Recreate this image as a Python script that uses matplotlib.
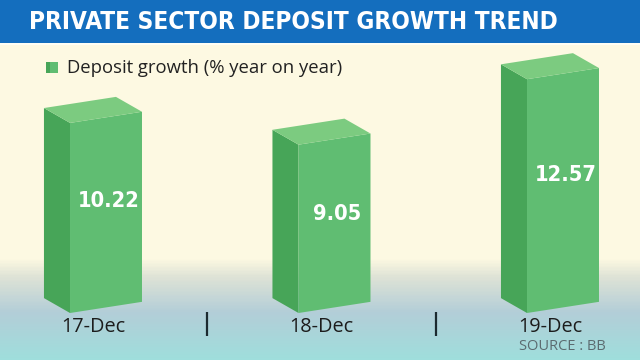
import numpy as np
import matplotlib
matplotlib.use("Agg")
import matplotlib.pyplot as plt
from matplotlib import font_manager
from matplotlib.font_manager import FontProperties
from matplotlib.patches import Polygon, Rectangle
from matplotlib.colors import LinearSegmentedColormap

# ------------------------------------------------------------
# data
# ------------------------------------------------------------
categories = ["17-Dec", "18-Dec", "19-Dec"]
growth = [10.22, 9.05, 12.57]
title = "PRIVATE SECTOR DEPOSIT GROWTH TREND"
legend_label = "Deposit growth (% year on year)"
source = "SOURCE : BB"


def _weight(w):
    if isinstance(w, str):
        return font_manager.weight_dict.get(w, 400)
    return w


def _stretch(s):
    if isinstance(s, str):
        return font_manager.stretch_dict.get(s, 500)
    return s


def find_condensed_bold():
    """pick a bold condensed face if one is installed"""
    best = None
    for f in font_manager.fontManager.ttflist:
        narrow = _stretch(f.stretch) < 500 or "Condensed" in f.name or "Narrow" in f.name
        if not narrow or _weight(f.weight) < 600 or f.style != "normal":
            continue
        key = (_stretch(f.stretch), abs(_weight(f.weight) - 700))
        if best is None or key < best[0]:
            best = (key, f.fname)
    return best[1] if best else None


cond_file = find_condensed_bold()
if cond_file:
    TITLE_FP = FontProperties(fname=cond_file, size=20)
    VALUE_FP = FontProperties(fname=cond_file, size=18)
else:
    TITLE_FP = FontProperties(family="DejaVu Sans", weight="bold", size=15)
    VALUE_FP = FontProperties(family="DejaVu Sans", weight="bold", size=16)

installed = {f.name for f in font_manager.fontManager.ttflist}
BODY = "Open Sans" if "Open Sans" in installed else "DejaVu Sans"

FRONT = "#60bd72"
SIDE = "#47a558"
TOP = "#7ccb80"
BLUE = "#146ebe"

# box geometry (x in category units, y in value units)
FW = 0.315      # front face width
DX = 0.114      # depth of the left face
SF = 0.6        # rise of the front face edges
SS = 0.8        # rise of the left face edges


def fit_width(fig, txt, target_px):
    """scale a text's font size so it spans target_px pixels"""
    r = fig.canvas.get_renderer()
    w = txt.get_window_extent(r).width
    txt.set_fontsize(txt.get_fontsize() * target_px / w)


fig = plt.figure(figsize=(6.4, 3.6), dpi=100)

# background: cream with a blue-ish ground at the bottom
bg = fig.add_axes([0, 0, 1, 1], zorder=0)
bg.set_axis_off()
grad = LinearSegmentedColormap.from_list(
    "ground",
    [(0.0, "#fdf9e2"), (0.72, "#fdf9e2"), (0.77, "#dfe3d6"),
     (0.87, "#b3ced8"), (1.0, "#9fdedc")],
)
bg.imshow(np.linspace(0, 1, 360).reshape(-1, 1), aspect="auto", cmap=grad,
          extent=[0, 1, 0, 1], origin="upper")
bg.set_xlim(0, 1)
bg.set_ylim(0, 1)
bg.add_patch(Rectangle((0, 1 - 43 / 360), 1, 43 / 360, color=BLUE, lw=0))
bg.add_patch(Rectangle((0, 1 - 45 / 360), 1, 2 / 360, color="#fffef4", lw=0))

t = fig.text(29 / 640, 1 - 22 / 360, title, color="white",
             fontproperties=TITLE_FP, va="center", ha="left")
fit_width(fig, t, 528)

# legend
bg.add_patch(Rectangle((46 / 640, 1 - 73 / 360), 12 / 640, 11 / 360,
                       color=FRONT, lw=0))
bg.add_patch(Rectangle((46 / 640, 1 - 73 / 360), 4 / 640, 11 / 360,
                       color=SIDE, lw=0))
lt = fig.text(67 / 640, 1 - 68 / 360, legend_label, color="#222222",
              fontsize=13, family=BODY, va="center", ha="left")
fit_width(fig, lt, 275)

# ------------------------------------------------------------
# bars
# ------------------------------------------------------------
ax = fig.add_axes([0, 0, 1, 1], zorder=1)
ax.set_axis_off()
ax.patch.set_alpha(0)
ax.set_xlim(-106 / 228.5, (640 - 106) / 228.5)
ax.set_ylim((313 - 360) / 18.6, 313 / 18.6)

value_texts = []
for i, v in enumerate(growth):
    x0 = i - FW / 2
    x1 = i + FW / 2
    xl = x0 - DX
    side = [(xl, SS), (x0, 0), (x0, v), (xl, v + SS)]
    front = [(x0, 0), (x1, SF), (x1, v + SF), (x0, v)]
    top = [(x0, v), (x1, v + SF), (x1 - DX, v + SF + SS), (xl, v + SS)]
    ax.add_patch(Polygon(side, closed=True, color=SIDE, lw=0))
    ax.add_patch(Polygon(front, closed=True, color=FRONT, lw=0))
    ax.add_patch(Polygon(top, closed=True, color=TOP, lw=0))
    vt = ax.text(i + 0.01, v * 0.59, f"{v:.2f}", color="white",
                 fontproperties=VALUE_FP.copy(), ha="center", va="center")
    value_texts.append(vt)
    ax.text(i - DX / 2, -0.75, categories[i], color="#1c1c1c", fontsize=14.3,
            family=BODY, ha="center", va="center")

# value labels: same size for all, sized so "10.22" spans ~62 px
fit_width(fig, value_texts[0], 62)
for vt in value_texts[1:]:
    vt.set_fontsize(value_texts[0].get_fontsize())

# separators between categories
for i in range(len(categories) - 1):
    xs = i + 0.5 - DX / 2
    ax.plot([xs, xs], [0.05, -1.24], color="#1c2a30", lw=1.6,
            solid_capstyle="butt")

fig.text(519 / 640, 1 - 347 / 360, source, color="#5b6b70", fontsize=10.5,
         family=BODY, va="center", ha="left")

fig.savefig("out.png", dpi=100)
